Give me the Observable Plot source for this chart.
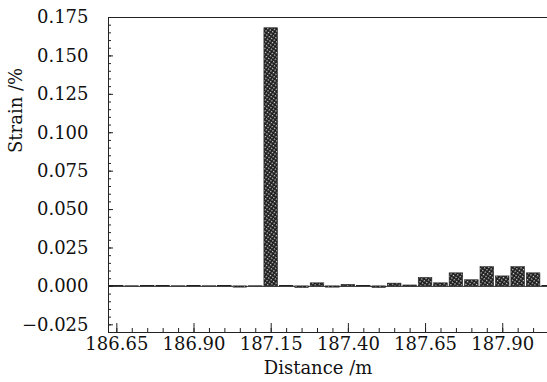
<!DOCTYPE html>
<html>
<head>
<meta charset="utf-8">
<script src="https://cdn.jsdelivr.net/npm/d3@7"></script>
<script src="https://cdn.jsdelivr.net/npm/@observablehq/plot@0.6"></script>
<style>
  html, body { margin: 0; padding: 0; background: white; }
</style>
</head>
<body>
<div id="chart"></div>
<script>
const distance = [186.65, 186.70, 186.75, 186.80, 186.85, 186.90, 186.95, 187.00, 187.05, 187.10,
                  187.15, 187.20, 187.25, 187.30, 187.35, 187.40, 187.45, 187.50, 187.55, 187.60,
                  187.65, 187.70, 187.75, 187.80, 187.85, 187.90, 187.95, 188.00, 188.05];
const strain = [0.0002, 0.0001, 0.0002, 0.0002, 0.0001, 0.0002, 0.0001, 0.0002, -0.0008, 0.0001,
                0.168, 0.0002, -0.001, 0.002, -0.0008, 0.001, 0.0002, -0.001, 0.0018, 0.0006,
                0.0055, 0.002, 0.0085, 0.004, 0.0125, 0.0065, 0.0125, 0.0085, 0.0002];
const xTickValues = [186.65, 186.90, 187.15, 187.40, 187.65, 187.90];
const yTickValues = [-0.025, 0, 0.025, 0.05, 0.075, 0.1, 0.125, 0.15, 0.175];
const xLabel = "Distance /m";
const yLabel = "Strain /%";

const data = distance.map((d, i) => ({distance: d, strain: strain[i]}));
const xMinor = d3.range(0, 29).map(i => +(186.65 + i * 0.05).toFixed(2));
const yMinor = d3.range(-6, 36).map(i => +(i * 0.005).toFixed(3));
const halfWidth = 0.022;

const chart = Plot.plot({
  width: 547,
  height: 382,
  marginLeft: 108,
  marginRight: 0,
  marginTop: 17,
  marginBottom: 50,
  style: {fontFamily: "'DejaVu Serif', serif", fontSize: "18px", color: "#111", background: "white"},
  x: {domain: [186.623, 188.045]},
  y: {domain: [-0.03, 0.175]},
  marks: [
    Plot.ruleY([0], {stroke: "#333", strokeWidth: 1}),
    Plot.rectY(data, {
      x1: d => d.distance - halfWidth,
      x2: d => d.distance + halfWidth,
      y: "strain",
      fill: "url(#hatch)",
      stroke: "#222",
      strokeWidth: 0.6
    }),
    Plot.frame({stroke: "#222"}),
    Plot.axisX({ticks: xMinor, tickSize: -4, tickFormat: () => "", label: null, stroke: "#222"}),
    Plot.axisX({ticks: xTickValues, tickSize: -9, tickFormat: () => "", label: null, stroke: "#222"}),
    Plot.axisX({ticks: xTickValues, tickSize: 0, tickPadding: 5, tickFormat: d3.format(".2f"), label: null, fill: "#111"}),
    Plot.axisY({ticks: yMinor, tickSize: -3, tickFormat: () => "", label: null, stroke: "#222"}),
    Plot.axisY({ticks: yTickValues, tickSize: -5, tickFormat: () => "", label: null, stroke: "#222"}),
    Plot.axisY({ticks: yTickValues, tickSize: 0, tickPadding: 20, tickFormat: d3.format(".3f"), label: null, fill: "#111"}),
    Plot.text([xLabel], {frameAnchor: "bottom", dx: -10, dy: 41, fill: "#111"}),
    Plot.text([yLabel], {frameAnchor: "left", rotate: -90, dx: -92, dy: -22, fill: "#111"})
  ]
});

const defs = d3.select(chart).insert("defs", ":first-child");
const pat = defs.append("pattern")
  .attr("id", "hatch")
  .attr("patternUnits", "userSpaceOnUse")
  .attr("width", 3)
  .attr("height", 3)
  .attr("patternTransform", "rotate(35)");
pat.append("rect").attr("width", 3).attr("height", 3).attr("fill", "#1c1c1c");
pat.append("rect").attr("x", 1).attr("y", 1).attr("width", 1.3).attr("height", 1.3).attr("fill", "#e0e0e0");

document.getElementById("chart").appendChild(chart);
</script>
</body>
</html>
